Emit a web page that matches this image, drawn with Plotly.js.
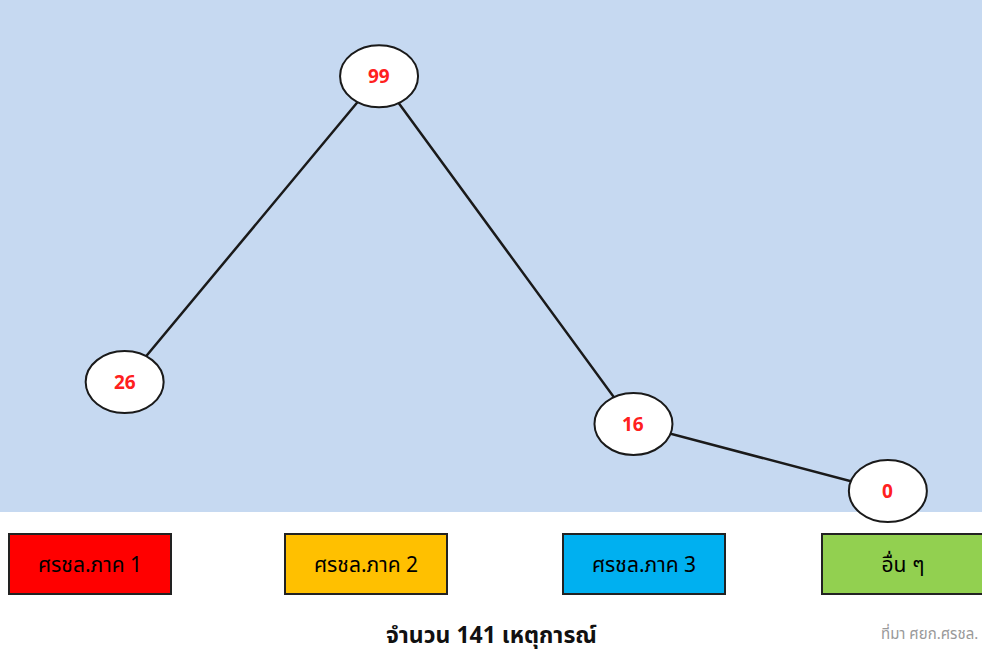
<!DOCTYPE html>
<html>
<head>
<meta charset="utf-8">
<script src="https://cdn.plot.ly/plotly-3.0.1.min.js"></script>
<style>
  html, body { margin: 0; padding: 0; background: #fff; }
  #chart { width: 982px; height: 656px; }
</style>
</head>
<body>
<div id="chart"></div>
<script>
const categories = ['ศรชล.ภาค 1', 'ศรชล.ภาค 2', 'ศรชล.ภาค 3', 'อื่น ๆ'];
const counts = [26, 99, 16, 0];
const boxColors = ['#ff0000', '#ffc000', '#00b0f0', '#92d050'];
const source = 'ที่มา ศยก.ศรชล.';

const total = counts.reduce((a, b) => a + b, 0);
const xs = categories.map((c, i) => i);
const boxX = [0.092, 0.373, 0.656, 0.92];

const font = '"Noto Sans", "Noto Sans Thai", Tahoma, sans-serif';
const plotH = 540;

const data = [{
  type: 'scatter',
  mode: 'lines',
  x: xs,
  y: counts,
  line: {color: '#1a1a1a', width: 2.5},
  cliponaxis: false,
  hoverinfo: 'skip'
}];

// blue plot area, then ellipse markers around each point
const shapes = [{
  type: 'rect', layer: 'below', xref: 'paper', yref: 'paper',
  x0: 0, x1: 1, y0: 28 / plotH, y1: 1,
  fillcolor: '#c6d9f1', line: {width: 0}
}];
xs.forEach((x, i) => {
  shapes.push({
    type: 'circle', layer: 'above', xref: 'x', yref: 'y',
    xsizemode: 'pixel', ysizemode: 'pixel',
    xanchor: x, yanchor: counts[i],
    x0: -39, x1: 39, y0: -31, y1: 31,
    fillcolor: '#ffffff', line: {color: '#1a1a1a', width: 2}
  });
});

const annotations = [];
xs.forEach((x, i) => {
  annotations.push({
    x: x, y: counts[i], xref: 'x', yref: 'y',
    text: '<b>' + counts[i] + '</b>', showarrow: false,
    font: {family: font, size: 19, color: '#ff2020'}
  });
});
categories.forEach((c, i) => {
  annotations.push({
    x: boxX[i], y: (plotH - 564) / plotH, xref: 'paper', yref: 'paper',
    yanchor: 'middle', xanchor: 'center',
    text: c, showarrow: false,
    bgcolor: boxColors[i], bordercolor: '#222', borderwidth: 2,
    width: 158, height: 56,
    font: {family: font, size: 21, color: '#000'}
  });
});
annotations.push({
  x: 0.5, y: 0, xref: 'paper', yref: 'paper', yanchor: 'top', yshift: -76,
  text: '<b>จำนวน ' + total + ' เหตุการณ์</b>', showarrow: false,
  font: {family: font, size: 23, color: '#111'}
});
annotations.push({
  x: 0.998, y: 0, xref: 'paper', yref: 'paper', xanchor: 'right', yanchor: 'top', yshift: -81,
  text: source, showarrow: false,
  font: {family: font, size: 15, color: '#999'}
});

const layout = {
  width: 982,
  height: 656,
  margin: {l: 0, r: 0, t: 0, b: 656 - plotH},
  paper_bgcolor: '#ffffff',
  plot_bgcolor: 'rgba(0,0,0,0)',
  showlegend: false,
  xaxis: {range: [-0.49, 3.37], visible: false, fixedrange: true},
  yaxis: {range: [-11.7, 117.2], visible: false, fixedrange: true},
  shapes: shapes,
  annotations: annotations
};

Plotly.newPlot('chart', data, layout, {displayModeBar: false, staticPlot: true});
</script>
</body>
</html>
